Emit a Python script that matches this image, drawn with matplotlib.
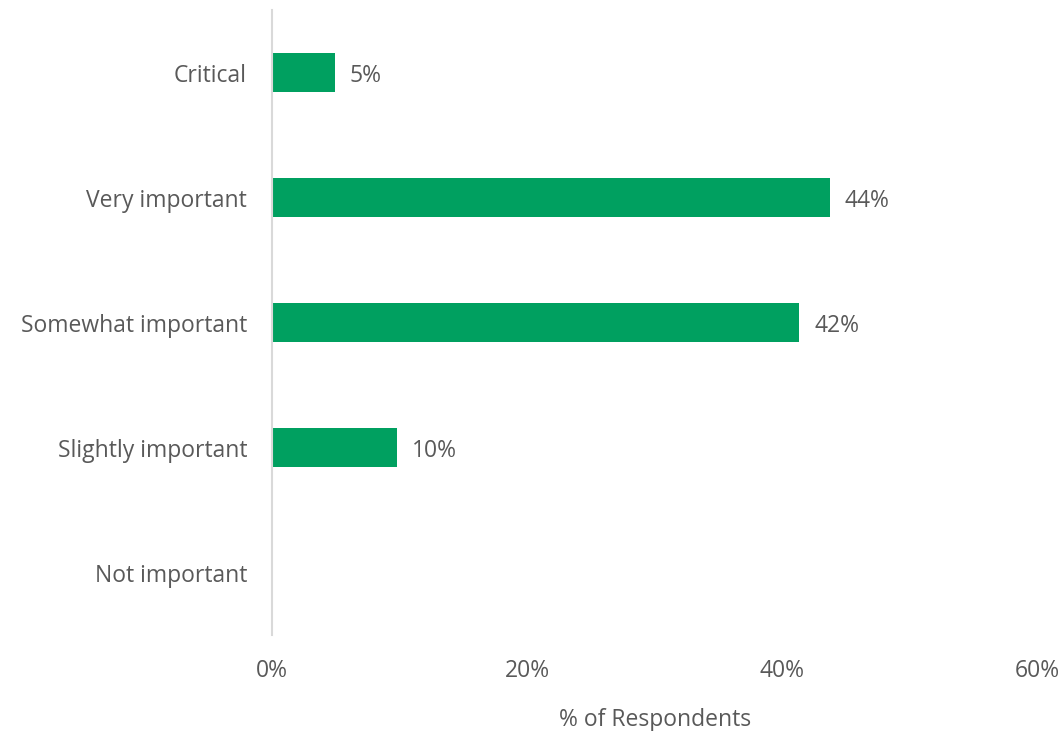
import matplotlib.pyplot as plt
import numpy as np

categorias = ['Critical', 'Very important', 'Somewhat important', 'Slightly important', 'Not important']
valores = [4.9, 43.7, 41.3, 9.8, 0]
etiquetas = ['5%', '44%', '42%', '10%', '']
ticks_x = [0, 20, 40, 60]
ticks_x_labels = ['0%', '20%', '40%', '60%']

verde = '#00A060'
gris = '#595959'
tam = 16.5

plt.rcParams['font.family'] = ['Open Sans', 'DejaVu Sans']

fig = plt.figure(figsize=(10.61, 7.31), dpi=100)
ax = fig.add_axes([0.2564, 0.131, 0.978 - 0.2564, 0.855])

y = np.arange(len(categorias))
ax.barh(y, valores, height=0.31, color=verde)

# etiquetas de datos a la derecha de cada barra
for yi, v, et in zip(y, valores, etiquetas):
    if et:
        ax.annotate(et, (v, yi), xytext=(11, -2), textcoords='offset points',
                    va='center', ha='left', fontsize=tam, color=gris)

ax.set_yticks(y)
ax.set_yticklabels(categorias, fontsize=tam, color=gris)
ax.set_ylim(len(categorias) - 0.5, -0.5)
ax.set_xlim(0, 60)
ax.set_xticks(ticks_x)
ax.set_xticklabels(ticks_x_labels, fontsize=tam, color=gris)
ax.tick_params(axis='both', length=0)
ax.tick_params(axis='x', pad=17)
ax.tick_params(axis='y', pad=18)
ax.set_xlabel('% of Respondents', fontsize=tam, color=gris, labelpad=18)

for s in ['top', 'right', 'bottom']:
    ax.spines[s].set_visible(False)
ax.spines['left'].set_color('#D9D9D9')
ax.spines['left'].set_linewidth(1.5)

fig.savefig('out.png', dpi=100)
